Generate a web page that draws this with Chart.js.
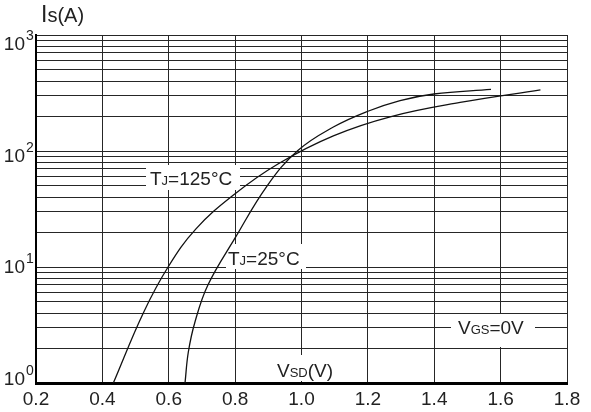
<!DOCTYPE html>
<html>
<head>
<meta charset="utf-8">
<script src="https://cdn.jsdelivr.net/npm/chart.js@4.4.1/dist/chart.umd.min.js"></script>
<style>
  html, body { margin: 0; padding: 0; background: #fff; }
  #wrap { width: 591px; height: 412px; position: relative; }
</style>
</head>
<body>
<div id="wrap"><canvas id="diodeChart"></canvas></div>
<script>
// Body diode forward characteristic, Is vs Vsd
const xTicks = [0.2, 0.4, 0.6, 0.8, 1.0, 1.2, 1.4, 1.6, 1.8];
const yTicks = [1, 2, 3, 4, 5, 6, 7, 8, 9,
  10, 20, 30, 40, 50, 60, 70, 80, 90,
  100, 200, 300, 400, 500, 600, 700, 800, 900, 1000];
const yDecades = [1, 10, 100, 1000];

// Tj = 25 C
const vsd25 = [0.649, 0.659, 0.679, 0.718, 0.800, 0.896, 0.989, 1.096, 1.196, 1.297, 1.399, 1.571];
const is25 = [1, 1.85, 3.36, 7.0, 17.8, 49.9, 101, 161, 218, 272, 310, 340];

// Tj = 125 C
const vsd125 = [0.433, 0.523, 0.598, 0.682, 0.797, 0.929, 1.096, 1.270, 1.478, 1.72];
const is125 = [1, 4, 10, 21.3, 42.2, 77.3, 135, 198, 262, 336];

const FONT = '"Liberation Sans", Arial, sans-serif';
const INK = '#222';

function toPoints(xs, ys) {
  return xs.map((x, i) => ({ x: x, y: ys[i] }));
}

// draw a run of text pieces with different sizes on one baseline
function drawParts(ctx, x, y, parts) {
  let cx = x;
  parts.forEach(p => {
    ctx.font = p[1] + 'px ' + FONT;
    ctx.fillText(p[0], cx, y - (p[2] || 0));
    cx += ctx.measureText(p[0]).width;
  });
}

// labels on the plot, white box behind them hides the grid
const notes = [
  { box: [146, 165, 94, 25], at: [150, 185], parts: [['T', 19], ['J', 13], ['=125°C', 19]] },
  { box: [226, 244, 80, 25], at: [228, 265], parts: [['T', 19], ['J', 13], ['=25°C', 19]] },
  { box: [272, 355, 73, 26], at: [277, 377], parts: [['V', 19], ['SD', 13], ['(V)', 19]] },
  { box: [451, 314, 84, 33], at: [458, 334], parts: [['V', 19], ['GS', 13], ['=0V', 19]] }
];

const textPlugin = {
  id: 'textPlugin',
  beforeDatasetsDraw(chart) {
    const ctx = chart.ctx;
    ctx.save();
    ctx.fillStyle = '#fff';
    notes.forEach(n => ctx.fillRect(n.box[0], n.box[1], n.box[2], n.box[3]));
    ctx.restore();
  },
  afterDraw(chart) {
    const ctx = chart.ctx;
    const xs = chart.scales.x;
    const ys = chart.scales.y;
    ctx.save();
    ctx.fillStyle = INK;
    ctx.textBaseline = 'alphabetic';

    // x tick labels
    ctx.font = '19px ' + FONT;
    ctx.textAlign = 'center';
    xTicks.forEach(v => {
      ctx.fillText(v.toFixed(1), xs.getPixelForValue(v), 405);
    });

    // y decade labels 10^n
    ctx.textAlign = 'left';
    yDecades.forEach((v, i) => {
      const base = ys.getPixelForValue(v) + 2 + 4.3 * i;
      ctx.font = '19px ' + FONT;
      const w = ctx.measureText('10').width;
      ctx.fillText('10', 25 - w, base);
      ctx.font = '14px ' + FONT;
      ctx.fillText(String(i), 26, base - 10);
    });

    // axis title
    drawParts(ctx, 41, 22, [['I', 23], ['s(A)', 20]]);

    notes.forEach(n => drawParts(ctx, n.at[0], n.at[1], n.parts));
    ctx.restore();
  }
};

new Chart(document.getElementById('diodeChart'), {
  type: 'line',
  data: {
    datasets: [
      {
        label: 'TJ=25°C',
        data: toPoints(vsd25, is25),
        borderColor: '#111',
        borderWidth: 1.3,
        pointRadius: 0,
        tension: 0.4,
        fill: false
      },
      {
        label: 'TJ=125°C',
        data: toPoints(vsd125, is125),
        borderColor: '#111',
        borderWidth: 1.3,
        pointRadius: 0,
        tension: 0.4,
        fill: false
      }
    ]
  },
  options: {
    responsive: true,
    maintainAspectRatio: false,
    animation: false,
    layout: { padding: { left: 36, right: 24, top: 35, bottom: 29 } },
    plugins: {
      legend: { display: false },
      tooltip: { enabled: false }
    },
    scales: {
      x: {
        type: 'linear',
        min: 0.2,
        max: 1.8,
        afterBuildTicks: axis => { axis.ticks = xTicks.map(v => ({ value: v })); },
        ticks: { display: false },
        grid: { color: '#262626', lineWidth: 1, drawTicks: false },
        border: { color: '#000', width: 3 }
      },
      y: {
        type: 'logarithmic',
        min: 1,
        max: 1000,
        afterBuildTicks: axis => { axis.ticks = yTicks.map(v => ({ value: v })); },
        ticks: { display: false },
        grid: { color: '#262626', lineWidth: 1, drawTicks: false },
        border: { color: '#000', width: 2 }
      }
    }
  },
  plugins: [textPlugin]
});
</script>
</body>
</html>
